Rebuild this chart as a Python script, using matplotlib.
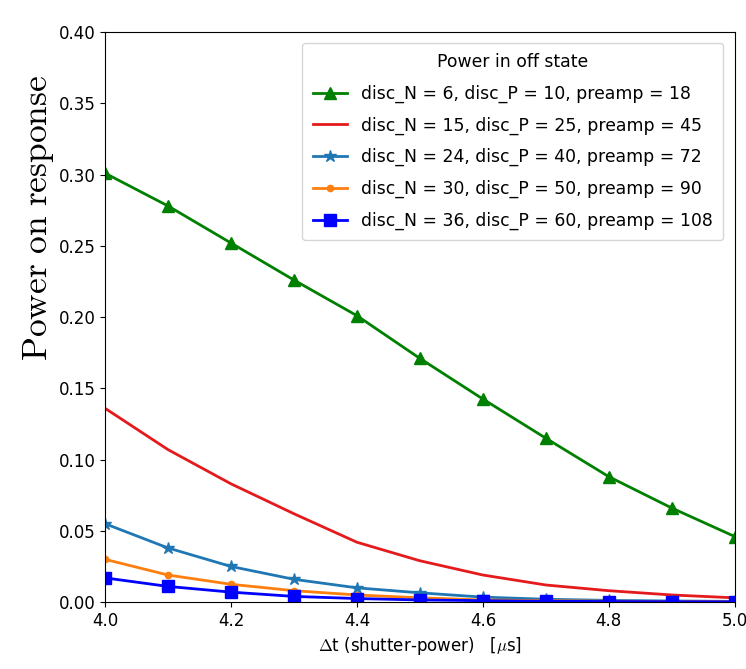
import matplotlib
matplotlib.use("Agg")
import matplotlib.pyplot as plt

x = [4.0, 4.1, 4.2, 4.3, 4.4, 4.5, 4.6, 4.7, 4.8, 4.9, 5.0]
green = [0.301, 0.278, 0.252, 0.226, 0.201, 0.171, 0.1425, 0.115, 0.088, 0.066, 0.046]
red = [0.136, 0.107, 0.083, 0.062, 0.042, 0.029, 0.019, 0.012, 0.008, 0.005, 0.003]
star = [0.055, 0.038, 0.025, 0.016, 0.010, 0.0065, 0.0035, 0.002, 0.0012, 0.0008, 0.0005]
orange = [0.030, 0.019, 0.0125, 0.008, 0.005, 0.003, 0.0015, 0.001, 0.0006, 0.0004, 0.0003]
square = [0.017, 0.011, 0.007, 0.004, 0.0025, 0.0015, 0.001, 0.0006, 0.0004, 0.0003, 0.0002]
labels = [
    "disc_N = 6, disc_P = 10, preamp = 18",
    "disc_N = 15, disc_P = 25, preamp = 45",
    "disc_N = 24, disc_P = 40, preamp = 72",
    "disc_N = 30, disc_P = 50, preamp = 90",
    "disc_N = 36, disc_P = 60, preamp = 108",
]

plt.rcParams['mathtext.fontset'] = 'cm'
fig = plt.figure(figsize=(7.46, 6.69), dpi=100)
ax = fig.add_axes([0.1408, 0.100, 0.8442, 0.852])

ax.plot(x, green, color='green', marker='^', markersize=9, lw=2, label=labels[0])
ax.plot(x, red, color='#e41a1c', lw=2, label=labels[1])
ax.plot(x, star, color='#1f77b4', marker='*', markersize=9, lw=2, label=labels[2])
ax.plot(x, orange, color='#ff7f0e', marker='.', markersize=9, lw=2, label=labels[3])
ax.plot(x, square, color='blue', marker='s', markersize=9, lw=2, label=labels[4])

ax.set_xlim(4.0, 5.0)
ax.set_ylim(0.0, 0.40)
ax.set_xticks([4.0, 4.2, 4.4, 4.6, 4.8, 5.0])
ax.set_yticks([0.0, 0.05, 0.10, 0.15, 0.20, 0.25, 0.30, 0.35, 0.40])
ax.tick_params(labelsize=12)
ax.set_xlabel(r"$\Delta$t (shutter-power)   [$\mu$s]", fontsize=12)
ax.set_ylabel(r"$\mathrm{Power\ on\ response}$", fontsize=25.5)
ax.yaxis.set_label_coords(-0.078, 0.674)
ax.legend(title="Power in off state", fontsize=12.4, title_fontsize=12.4,
          loc='upper right', labelspacing=0.78, borderpad=0.6,
          bbox_to_anchor=(0.995, 0.996))

fig.savefig("out.png", dpi=100)
